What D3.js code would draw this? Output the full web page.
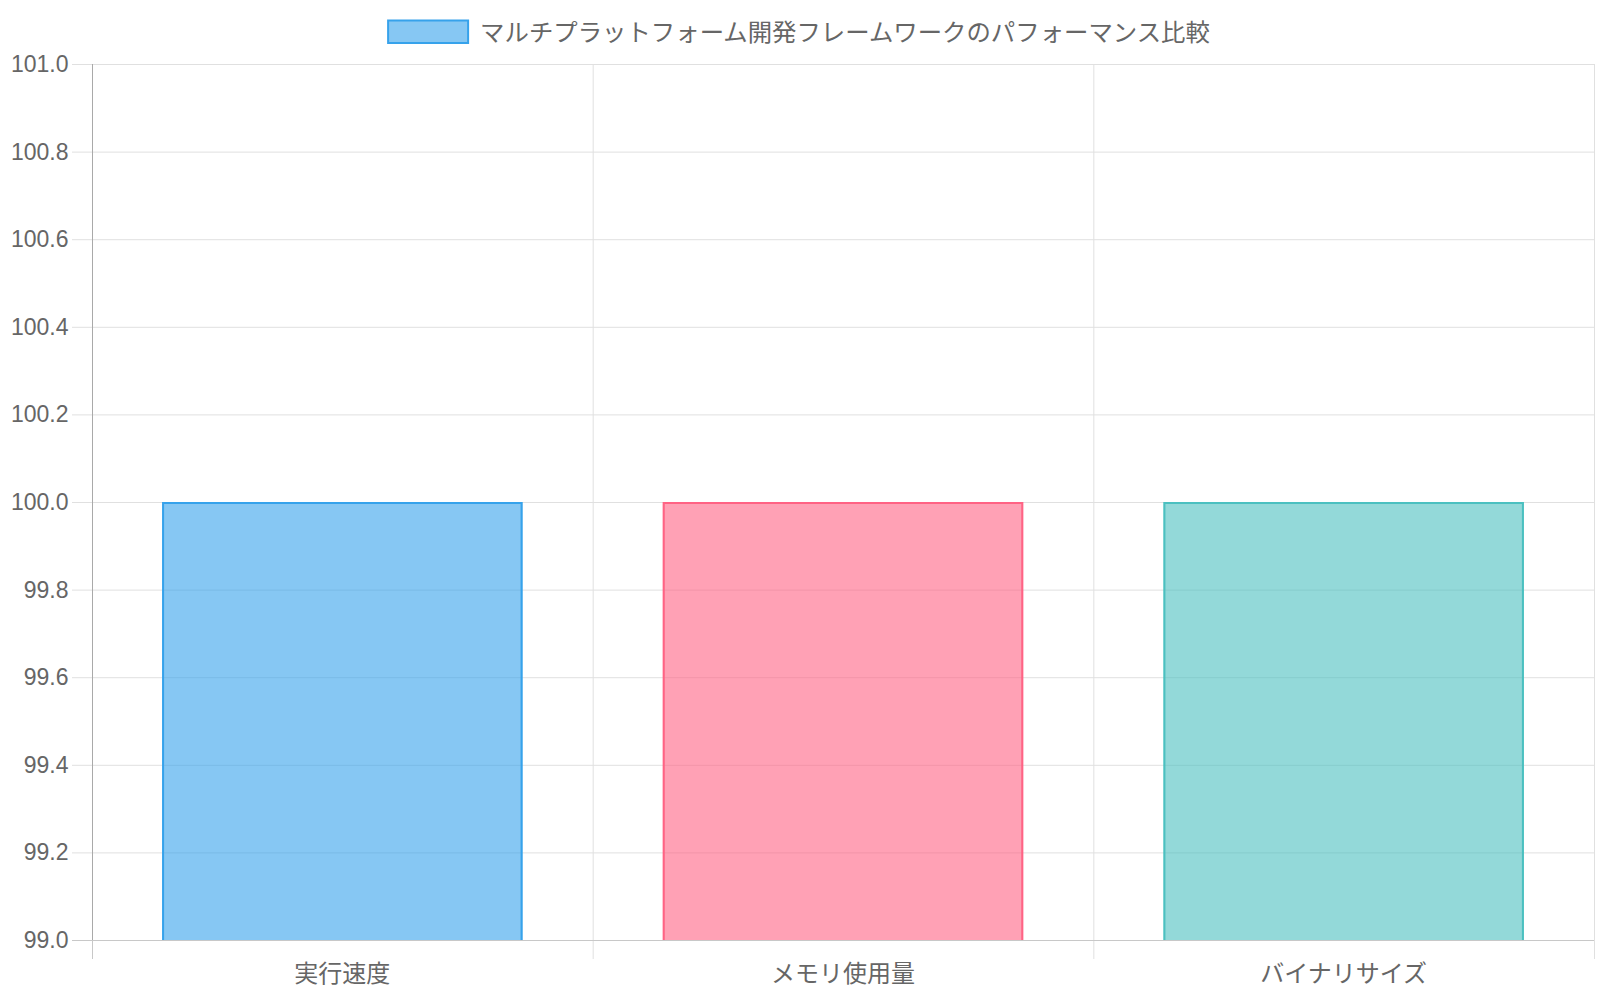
<!DOCTYPE html>
<html><head><meta charset="utf-8">
<script src="https://cdn.jsdelivr.net/npm/d3@7"></script>
<style>html,body{margin:0;padding:0;background:#fff;}</style>
</head><body>
<svg id="c" width="1600" height="1000"></svg>
<script>
const title = "マルチプラットフォーム開発フレームワークのパフォーマンス比較";
const categories = ["実行速度", "メモリ使用量", "バイナリサイズ"];
const values = [100, 100, 100];
const fills = ["rgba(54,162,235,0.6)", "rgba(255,99,132,0.6)", "rgba(75,192,192,0.6)"];
const strokes = ["rgb(54,162,235)", "rgb(255,99,132)", "rgb(75,192,192)"];
const yTicks = [99.0, 99.2, 99.4, 99.6, 99.8, 100.0, 100.2, 100.4, 100.6, 100.8, 101.0];

const svg = d3.select("#c");
const L = 92, R = 1594, T = 64, B = 940;
const y = d3.scaleLinear().domain([99, 101]).range([B, T]);
const x = d3.scaleBand().domain(categories).range([L, R]).paddingInner(0.28).paddingOuter(0.14);
const xb = d3.scaleBand().domain(categories).range([L, R]).padding(0);
const cjk = "'Noto Sans CJK JP', 'Noto Sans', sans-serif";
const num = "'Liberation Sans', Arial, sans-serif";

// horizontal grid
const g = svg.append("g");
yTicks.forEach((t, i) => {
  g.append("line").attr("x1", 72).attr("x2", R).attr("y1", y(t) + 0.5).attr("y2", y(t) + 0.5)
    .attr("stroke", i === 0 ? "#c8c8c8" : "#e0e0e0").attr("stroke-width", 1);
});
// vertical grid
const bounds = categories.map(c => xb(c)).concat([R]);
bounds.forEach((bx, i) => {
  if (i === 0) return;
  g.append("line").attr("x1", bx + 0.5).attr("x2", bx + 0.5).attr("y1", T).attr("y2", 959)
    .attr("stroke", "#e0e0e0").attr("stroke-width", 1);
});
// left axis
g.append("line").attr("x1", L + 0.5).attr("x2", L + 0.5).attr("y1", T).attr("y2", B)
  .attr("stroke", "#a9a9a9").attr("stroke-width", 1);
g.append("line").attr("x1", L + 0.5).attr("x2", L + 0.5).attr("y1", B).attr("y2", 959)
  .attr("stroke", "#c8c8c8").attr("stroke-width", 1);

// bars
const bars = svg.append("g");
categories.forEach((c, i) => {
  const x0 = x(c), w = x.bandwidth(), y0 = y(values[i]), h = y(99) - y0;
  bars.append("rect").attr("x", x0).attr("y", y0).attr("width", w).attr("height", h).attr("fill", fills[i]);
  bars.append("path")
    .attr("d", `M${x0 + 1},${y0 + h} L${x0 + 1},${y0 + 1} L${x0 + w - 1},${y0 + 1} L${x0 + w - 1},${y0 + h}`)
    .attr("fill", "none").attr("stroke", strokes[i]).attr("stroke-width", 2);
});
// redraw bottom axis line on top
svg.append("line").attr("x1", 72).attr("x2", R).attr("y1", B + 0.5).attr("y2", B + 0.5)
  .attr("stroke", "#c8c8c8").attr("stroke-width", 1);

// y tick labels
svg.append("g").selectAll("text").data(yTicks).join("text")
  .attr("x", 68.5).attr("y", d => y(d)).attr("text-anchor", "end").attr("dominant-baseline", "central")
  .attr("font-family", num).attr("font-size", 23).attr("fill", "#666")
  .text(d => d.toFixed(1));

// x labels
svg.append("g").selectAll("text").data(categories).join("text")
  .attr("x", d => x(d) + x.bandwidth() / 2).attr("y", 971).attr("text-anchor", "middle")
  .attr("dominant-baseline", "central")
  .attr("font-family", cjk).attr("font-size", 24).attr("fill", "#666")
  .text(d => d);

// legend
const lg = svg.append("g");
const lt = lg.append("text").attr("x", 92).attr("y", 30).attr("dominant-baseline", "central")
  .attr("font-family", cjk).attr("font-size", 24.4).attr("fill", "#666").text(title);
const tw = lt.node().getComputedTextLength();
const total = 82 + 11 + tw;
const sx = 798.5 - total / 2;
lg.insert("rect", "text").attr("x", sx + 1).attr("y", 20.5).attr("width", 80).attr("height", 22.5)
  .attr("fill", fills[0]).attr("stroke", strokes[0]).attr("stroke-width", 2);
lt.attr("x", sx + 93);
</script>
</body></html>
